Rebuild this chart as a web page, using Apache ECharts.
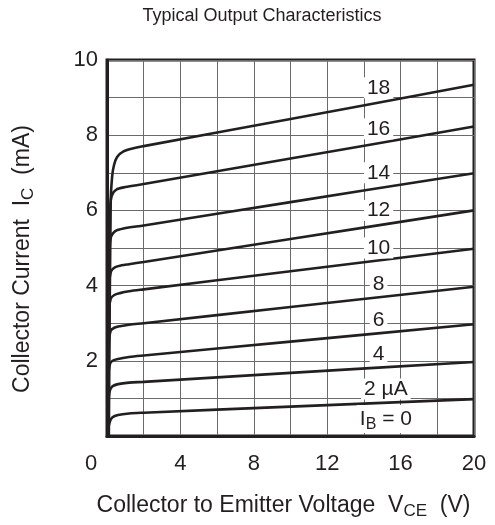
<!DOCTYPE html>
<html>
<head>
<meta charset="utf-8">
<script src="https://cdn.jsdelivr.net/npm/echarts@6/dist/echarts.min.js"></script>
<style>html,body{margin:0;padding:0;background:#fff}#c{width:495px;height:525px}</style>
</head>
<body>
<div id="c"></div>
<script>
// Base current IB (µA) for each curve
const curveNames = ['2', '4', '6', '8', '10', '12', '14', '16', '18'];
// [VCE (V), IC (mA)] points
const curveIb2  = [[0.05,0],[0.08,0.2],[0.15,0.38],[0.3,0.5],[0.6,0.56],[1.2,0.6],[2,0.62],[10,0.78],[20,0.98]];
const curveIb4  = [[0.05,0],[0.08,0.9],[0.15,1.2],[0.3,1.32],[0.6,1.38],[1.2,1.42],[2,1.44],[10,1.68],[20,1.97]];
const curveIb6  = [[0.05,0],[0.08,1.6],[0.15,1.9],[0.3,2.0],[0.6,2.05],[1.2,2.1],[2,2.14],[10,2.51],[20,2.97]];
const curveIb8  = [[0.05,0],[0.1,2.5],[0.2,2.8],[0.4,2.88],[0.7,2.92],[1.2,2.96],[2,3.0],[10,3.43],[20,3.97]];
const curveIb10 = [[0.05,0],[0.1,3.3],[0.2,3.65],[0.4,3.75],[0.7,3.8],[1.2,3.85],[2,3.9],[10,4.38],[20,4.98]];
const curveIb12 = [[0.05,0],[0.12,4.0],[0.22,4.38],[0.45,4.49],[0.8,4.54],[1.2,4.57],[2,4.63],[10,5.24],[20,6.0]];
const curveIb14 = [[0.07,0],[0.14,4.9],[0.22,5.3],[0.45,5.45],[0.9,5.52],[2,5.6],[10,6.22],[20,6.99]];
const curveIb16 = [[0.07,0],[0.16,5.9],[0.25,6.38],[0.5,6.55],[1.0,6.62],[2,6.7],[10,7.38],[20,8.23]];
const curveIb18 = [[0.1,0],[0.2,6.2],[0.28,6.9],[0.38,7.2],[0.55,7.42],[0.9,7.57],[1.5,7.66],[2,7.71],[10,8.43],[20,9.34]];
const curves = [curveIb2, curveIb4, curveIb6, curveIb8, curveIb10, curveIb12, curveIb14, curveIb16, curveIb18];

// Curve annotation labels
const labelTexts = ['18', '16', '14', '12', '10', '8', '6', '4', '2 µA', '{it|I}{sub|B} = 0'];
const labelX = [14.8, 14.8, 14.8, 14.8, 14.8, 14.8, 14.8, 14.8, 15.2, 15.2];
const labelY = [9.26, 8.17, 7.0, 6.0, 5.0, 4.03, 3.08, 2.17, 1.25, 0.45];

// Axis ticks
const xTickLabels = [0, 4, 8, 12, 16, 20];
const yTickLabels = [2, 4, 6, 8, 10];

const FONT = "'Liberation Sans', Arial, Helvetica, sans-serif";
const INK = '#231f20';

const chart = echarts.init(document.getElementById('c'));
const series = curves.map((d, i) => ({
  type: 'line',
  name: curveNames[i],
  data: d,
  smooth: 0.3,
  showSymbol: false,
  lineStyle: { color: INK, width: 2.6 },
  z: 3
}));
series.push({
  type: 'scatter',
  data: labelX.map((x, i) => [x, labelY[i], labelTexts[i]]),
  symbolSize: 0,
  itemStyle: { opacity: 1 },
  z: 5,
  label: {
    show: true,
    position: 'inside',
    formatter: p => p.data[2],
    fontFamily: FONT,
    fontSize: 21,
    color: INK,
    opacity: 1,
    backgroundColor: '#fff',
    padding: [0, 3],
    rich: {
      it: { fontFamily: FONT, fontSize: 21, color: INK },
      sub: { fontFamily: FONT, fontSize: 16, color: INK, padding: [12, 0, 0, 0] }
    }
  }
});

chart.setOption({
  animation: false,
  backgroundColor: '#fff',
  title: {
    text: 'Typical Output Characteristics',
    left: 257, top: 2, textAlign: 'center',
    textStyle: { fontFamily: FONT, fontSize: 18, fontWeight: 'normal', color: INK }
  },
  grid: {
    left: 107, right: 21, top: 60, bottom: 88,
    show: true, borderColor: INK, borderWidth: 3, backgroundColor: 'transparent'
  },
  xAxis: {
    type: 'value', min: 0, max: 20, interval: 2,
    name: 'Collector to Emitter Voltage  V{sub|CE}  (V)',
    nameLocation: 'middle', nameGap: 55,
    nameTextStyle: {
      fontFamily: FONT, fontSize: 23, color: INK,
      padding: [0, 14, 0, 0],
      rich: { sub: { fontFamily: FONT, fontSize: 17, color: INK, padding: [12, 0, 0, 0] } }
    },
    axisLine: { show: true, lineStyle: { color: INK, width: 3 } },
    axisTick: { show: false },
    splitLine: { show: true, lineStyle: { color: '#6a6a6a', width: 1 } },
    axisLabel: {
      fontFamily: FONT, fontSize: 22, color: INK, margin: 17,
      formatter: v => xTickLabels.indexOf(v) < 0 ? '' : (v === 0 ? '{z|0}' : String(v)),
      rich: { z: { fontFamily: FONT, fontSize: 22, color: INK, padding: [0, 32, 0, 0] } }
    }
  },
  yAxis: {
    type: 'value', min: 0, max: 10, interval: 1,
    name: 'Collector Current  I{sub|C}  (mA)',
    nameLocation: 'middle', nameGap: 70,
    nameTextStyle: {
      fontFamily: FONT, fontSize: 23, color: INK,
      padding: [0, 22, 0, 0],
      rich: { sub: { fontFamily: FONT, fontSize: 17, color: INK, padding: [12, 0, 0, 0] } }
    },
    axisLine: { show: true, lineStyle: { color: INK, width: 3 } },
    axisTick: { show: false },
    splitLine: { show: true, lineStyle: { color: '#6a6a6a', width: 1 } },
    axisLabel: {
      fontFamily: FONT, fontSize: 22, color: INK, margin: 9,
      formatter: v => yTickLabels.indexOf(v) < 0 ? '' : String(v)
    }
  },
  series: series
});
</script>
</body>
</html>
